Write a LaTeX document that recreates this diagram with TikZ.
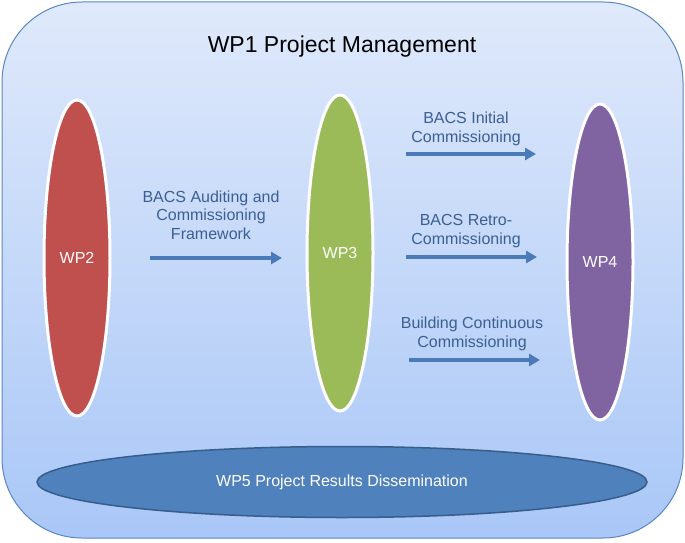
\documentclass[tikz,border=0pt]{standalone}
\usepackage{fontspec}
\setmainfont{Liberation Sans}
\usetikzlibrary{shapes.geometric,arrows.meta}
\definecolor{bgtop}{HTML}{DFE9FB}
\definecolor{bgbot}{HTML}{A9C7F7}
\definecolor{frame}{HTML}{5A86C2}
\definecolor{wpred}{HTML}{C0504D}
\definecolor{wpgreen}{HTML}{9BBB59}
\definecolor{wppurple}{HTML}{8064A2}
\definecolor{wpblue}{HTML}{4F81BD}
\definecolor{wpblueb}{HTML}{385D8A}
\definecolor{lbl}{HTML}{3B5F94}
\definecolor{arr}{HTML}{4A7AB8}
\tikzset{
  x=1pt,y=-1pt,
  wpnode/.style={ellipse,draw=white,line width=3pt,minimum width=66pt,minimum height=316pt,inner sep=0pt,text=white,font=\fontsize{16}{18}\selectfont},
  flowarrow/.style={draw=arr,line width=3.5pt,-{Triangle[length=11pt,width=12pt]}},
  flowlabel/.style={text=lbl,align=center,font=\fontsize{16}{18.5}\selectfont,inner sep=0pt}
}
\begin{document}
\begin{tikzpicture}
\useasboundingbox (0,0) rectangle (685,543);
\shade[top color=bgtop,bottom color=bgbot,draw=frame,line width=1pt,rounded corners=80pt] (2,2) rectangle (683,538);
\node[font=\fontsize{23}{26}\selectfont,text=black] (title) at (342,47) {WP1 Project Management};
\node[wpnode,fill=wpred] (wp2) at (77,258) {WP2};
\node[wpnode,fill=wpgreen] (wp3) at (340,253) {WP3};
\node[wpnode,fill=wppurple] (wp4) at (600,262) {WP4};
\node[ellipse,fill=wpblue,draw=wpblueb,line width=1.5pt,minimum width=610pt,minimum height=71pt,text=white,font=\fontsize{16}{18}\selectfont] (wp5) at (342,482) {WP5 Project Results Dissemination};
% arrows
\coordinate (a1s) at (150,258); \coordinate (a1e) at (282,258);
\coordinate (a2s) at (406,154); \coordinate (a2e) at (536,154);
\coordinate (a3s) at (406,257); \coordinate (a3e) at (537,257);
\coordinate (a4s) at (409,360); \coordinate (a4e) at (540,360);
\draw[flowarrow] (a1s) -- (a1e);
\draw[flowarrow] (a2s) -- (a2e);
\draw[flowarrow] (a3s) -- (a3e);
\draw[flowarrow] (a4s) -- (a4e);
\node[flowlabel] (l1) at (211,215) {BACS Auditing and\\Commissioning\\Framework};
\node[flowlabel] (l2) at (466,129) {BACS Initial\\Commissioning};
\node[flowlabel] (l3) at (466,231) {BACS Retro-\\Commissioning};
\node[flowlabel] (l4) at (472,334) {Building Continuous\\Commissioning};
\end{tikzpicture}
\end{document}
